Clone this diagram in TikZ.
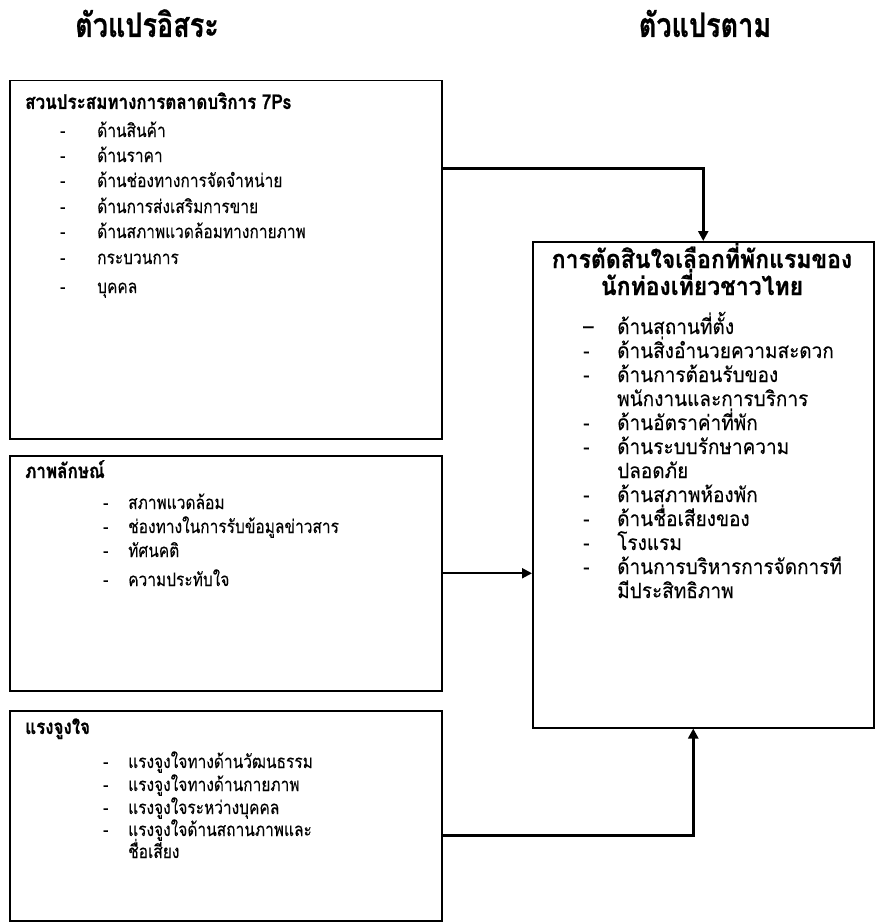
\documentclass[tikz,border=0pt]{standalone}
\usepackage{fontspec}
\usetikzlibrary{arrows.meta}
\newfontfamily\thaim[Script=Thai, FakeBold=0.15]{Loma}
\newfontfamily\thaib[Script=Thai, BoldFeatures={FakeBold=0.7}]{Loma}
\newsavebox\stretchbox
\tikzset{
  tall/.style={execute at begin node={\begin{lrbox}{\stretchbox}},
               execute at end node={\end{lrbox}\scalebox{1}[#1]{\usebox{\stretchbox}}}},
  box/.style={draw, line width=1.5pt, inner sep=0pt, anchor=north west},
  txt/.style={anchor=base west, inner sep=0pt, font=\thaim\fontsize{15.5}{18}\selectfont, tall=1.2},
  rtxt/.style={anchor=base west, inner sep=0pt, font=\thaim\fontsize{19}{22}\selectfont, tall=1.1},
  ttl/.style={anchor=base west, inner sep=0pt, font=\thaib\bfseries\fontsize{17}{20}\selectfont, tall=1.2},
  rttl/.style={anchor=base, inner sep=0pt, font=\thaib\bfseries\fontsize{23}{26}\selectfont, tall=1.1},
  head/.style={anchor=base, inner sep=0pt, font=\thaib\bfseries\fontsize{27}{32}\selectfont, tall=1.25},
  arr/.style={-{Triangle[length=10pt,width=10pt]}, line cap=butt}
}
\begin{document}
\begin{tikzpicture}[x=1pt,y=-1pt]
\useasboundingbox (0,0) rectangle (876,923);
% headings
\node[head] (h1) at (147,37) {ตัวแปรอิสระ};
\node[head] (h2) at (705,37) {ตัวแปรตาม};
% boxes
\node[box, minimum width=432pt, minimum height=358pt] (b1) at (9,80) {};
\node[box, minimum width=432pt, minimum height=235pt] (b2) at (9,455) {};
\node[box, minimum width=432pt, minimum height=210pt] (b3) at (9,710) {};
\node[box, minimum width=341pt, minimum height=486pt] (r) at (532,241) {};
% box 1
\node[ttl] (t1) at (25,109) {สวนประสมทางการตลาดบริการ 7Ps};
\node[txt] (d11) at (60,137) {-}; \node[txt] (i11) at (97,137) {ด้านสินค้า};
\node[txt] (d12) at (60,162) {-}; \node[txt] (i12) at (97,162) {ด้านราคา};
\node[txt] (d13) at (60,187) {-}; \node[txt] (i13) at (97,187) {ด้านช่องทางการจัดจำหน่าย};
\node[txt] (d14) at (60,213) {-}; \node[txt] (i14) at (97,213) {ด้านการส่งเสริมการขาย};
\node[txt] (d15) at (60,238) {-}; \node[txt] (i15) at (97,238) {ด้านสภาพแวดล้อมทางกายภาพ};
\node[txt] (d16) at (60,264) {-}; \node[txt] (i16) at (97,264) {กระบวนการ};
\node[txt] (d17) at (60,293) {-}; \node[txt] (i17) at (97,293) {บุคคล};
% box 2
\node[ttl] (t2) at (25,478) {ภาพลักษณ์};
\node[txt] (d21) at (103,509) {-}; \node[txt] (i21) at (128,509) {สภาพแวดล้อม};
\node[txt] (d22) at (103,533) {-}; \node[txt] (i22) at (128,533) {ช่องทางในการรับข้อมูลข่าวสาร};
\node[txt] (d23) at (103,557) {-}; \node[txt] (i23) at (128,557) {ทัศนคติ};
\node[txt] (d24) at (103,586) {-}; \node[txt] (i24) at (128,586) {ความประทับใจ};
% box 3
\node[ttl] (t3) at (25,734) {แรงจูงใจ};
\node[txt] (d31) at (103,768) {-}; \node[txt] (i31) at (128,768) {แรงจูงใจทางด้านวัฒนธรรม};
\node[txt] (d32) at (103,791) {-}; \node[txt] (i32) at (128,791) {แรงจูงใจทางด้านกายภาพ};
\node[txt] (d33) at (103,814) {-}; \node[txt] (i33) at (128,814) {แรงจูงใจระหว่างบุคคล};
\node[txt] (d34) at (103,836) {-}; \node[txt] (i34) at (128,836) {แรงจูงใจด้านสถานภาพและ};
\node[txt] (i35) at (128,858) {ชื่อเสียง};
% right box
\node[rttl] (rt1) at (702,268) {การตัดสินใจเลือกที่พักแรมของ};
\node[rttl] (rt2) at (702,295) {นักท่องเที่ยวชาวไทย};
\node[rtxt] (e1) at (583,334) {–}; \node[rtxt] (j1) at (617,334) {ด้านสถานที่ตั้ง};
\node[rtxt] (e2) at (583,358) {-}; \node[rtxt] (j2) at (617,358) {ด้านสิ่งอำนวยความสะดวก};
\node[rtxt] (e3) at (583,382) {-}; \node[rtxt] (j3) at (617,382) {ด้านการต้อนรับของ};
\node[rtxt] (j3b) at (617,406) {พนักงานและการบริการ};
\node[rtxt] (e4) at (583,430) {-}; \node[rtxt] (j4) at (617,430) {ด้านอัตราค่าที่พัก};
\node[rtxt] (e5) at (583,454) {-}; \node[rtxt] (j5) at (617,454) {ด้านระบบรักษาความ};
\node[rtxt] (j5b) at (617,478) {ปลอดภัย};
\node[rtxt] (e6) at (583,502) {-}; \node[rtxt] (j6) at (617,502) {ด้านสภาพห้องพัก};
\node[rtxt] (e7) at (583,526) {-}; \node[rtxt] (j7) at (617,526) {ด้านชื่อเสียงของ};
\node[rtxt] (e8) at (583,550) {-}; \node[rtxt] (j8) at (617,550) {โรงแรม};
\node[rtxt] (e9) at (583,574) {-}; \node[rtxt] (j9) at (617,574) {ด้านการบริหารการจัดการที};
\node[rtxt] (j9b) at (617,598) {มีประสิทธิภาพ};
% connectors
\draw[arr, line width=3pt] ([yshift=-88pt]b1.north east) -| (r.north);
\draw[arr, line width=2pt] (b2.east) -- (b2.east -| r.west);
\draw[arr, line width=3pt] ([yshift=-125pt]b3.north east) -| ([xshift=-10pt]r.south);
\end{tikzpicture}
\end{document}
